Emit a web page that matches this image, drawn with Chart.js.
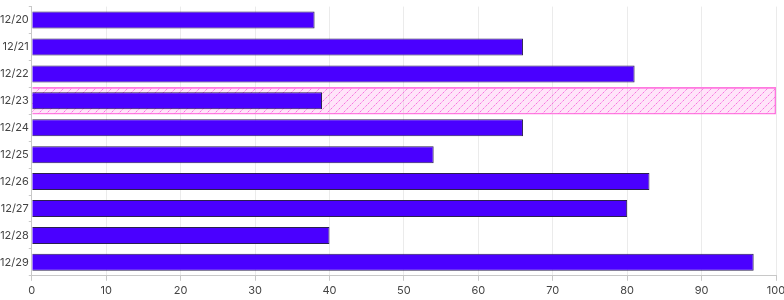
<!DOCTYPE html>
<html>
<head>
<meta charset="utf-8">
<script src="https://cdn.jsdelivr.net/npm/chart.js@4"></script>
<style>
  html, body { margin: 0; padding: 0; background: #fff; }
  #wrap { width: 784px; height: 300px; }
</style>
</head>
<body>
<div id="wrap"><canvas id="barChart"></canvas></div>
<script>
const days = ["12/20", "12/21", "12/22", "12/23", "12/24", "12/25", "12/26", "12/27", "12/28", "12/29"];
const values = [38, 66, 81, 39, 66, 54, 83, 80, 40, 97];
const highlight = [null, null, null, 100, null, null, null, null, null, null];
const xTicks = [0, 10, 20, 30, 40, 50, 60, 70, 80, 90, 100];

// diagonal hatch for the highlighted row
function hatch() {
  const c = document.createElement("canvas");
  c.width = 8;
  c.height = 8;
  const g = c.getContext("2d");
  g.fillStyle = "rgba(255, 120, 225, 0.2)";
  g.fillRect(0, 0, 8, 8);
  g.strokeStyle = "rgba(245, 80, 215, 0.9)";
  g.lineWidth = 1;
  g.setLineDash([1.2, 1]);
  g.beginPath();
  g.moveTo(0, 8);
  g.lineTo(8, 0);
  g.moveTo(-4, 4);
  g.lineTo(4, -4);
  g.moveTo(4, 12);
  g.lineTo(12, 4);
  g.stroke();
  return g.createPattern(c, "repeat");
}

Chart.defaults.font.family = "Inter, 'DejaVu Sans', sans-serif";
Chart.defaults.font.size = 11;
Chart.defaults.color = "#444";

new Chart(document.getElementById("barChart"), {
  type: "bar",
  data: {
    labels: days,
    datasets: [
      {
        data: values,
        backgroundColor: "#4a00ff",
        borderColor: "#2a1f4f",
        borderWidth: 1,
        grouped: false,
        categoryPercentage: 0.7,
        barPercentage: 0.9,
      },
      {
        data: highlight,
        backgroundColor: hatch(),
        borderColor: "#ff7ae0",
        borderWidth: 1,
        grouped: false,
        categoryPercentage: 1,
        barPercentage: 1,
      },
    ],
  },
  options: {
    indexAxis: "y",
    responsive: true,
    maintainAspectRatio: false,
    animation: false,
    layout: { padding: { top: 3 } },
    plugins: { legend: { display: false }, tooltip: { enabled: false } },
    scales: {
      x: {
        min: 0,
        max: 100,
        afterBuildTicks: (s) => { s.ticks = xTicks.map((v) => ({ value: v })); },
        // "100" may run right up to the canvas edge
        afterFit: (s) => { s.paddingRight = 8; },
        grid: { color: "#ebebeb", tickColor: "#c8c8c8", tickLength: 5 },
        border: { color: "#c8c8c8" },
        ticks: { padding: 3 },
      },
      y: {
        // a little extra room below the last row, like the reference
        afterDataLimits: (s) => { s.max += 0.15; },
        grid: { display: true, drawOnChartArea: false, tickColor: "#c8c8c8", tickLength: 3 },
        border: { color: "#c8c8c8" },
        ticks: { padding: 0 },
      },
    },
  },
});
</script>
</body>
</html>
